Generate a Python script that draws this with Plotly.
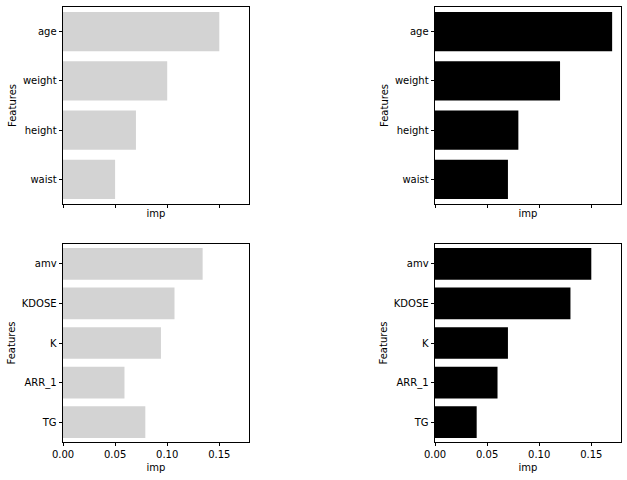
import plotly.graph_objects as go

# Werte
body_features = ['age', 'weight', 'height', 'waist']
body_imp_a = [0.150, 0.100, 0.070, 0.050]
body_imp_b = [0.170, 0.120, 0.080, 0.070]

lab_features = ['amv', 'KDOSE', 'K', 'ARR_1', 'TG']
lab_imp_a = [0.134, 0.107, 0.094, 0.059, 0.079]
lab_imp_b = [0.150, 0.130, 0.070, 0.060, 0.040]

x_ticks = [0.0, 0.05, 0.10, 0.15]

W, H = 627, 480
FONT = 'DejaVu Sans'


def px_x(a, b):
    return [a / W, b / W]


def px_y(top, bottom):
    return [(H - bottom) / H, (H - top) / H]


panels = [
    # (features, values, colour, x-domain, y-domain, show tick labels)
    (body_features, body_imp_a, '#d3d3d3', px_x(63, 249), px_y(7, 204), False),
    (body_features, body_imp_b, '#000000', px_x(435, 621), px_y(7, 204), False),
    (lab_features, lab_imp_a, '#d3d3d3', px_x(63, 249), px_y(244, 442), True),
    (lab_features, lab_imp_b, '#000000', px_x(435, 621), px_y(244, 442), True),
]

x_max = max(max(body_imp_a), max(body_imp_b), max(lab_imp_a), max(lab_imp_b)) * 1.05

fig = go.Figure()
layout = {}
title_font = dict(family=FONT, size=10, color='black')

for i, (feats, vals, colour, xdom, ydom, show_lbl) in enumerate(panels, start=1):
    sfx = '' if i == 1 else str(i)
    fig.add_trace(go.Bar(
        x=vals,
        y=feats,
        orientation='h',
        marker=dict(color=colour, line=dict(width=0)),
        width=0.8,
        xaxis='x' + sfx,
        yaxis='y' + sfx,
        showlegend=False,
    ))
    layout['xaxis' + sfx] = dict(
        domain=xdom,
        anchor='y' + sfx,
        range=[0, x_max],
        tickmode='array',
        tickvals=x_ticks,
        ticktext=[f'{v:.2f}' for v in x_ticks],
        showticklabels=show_lbl,
        ticks='outside',
        ticklen=3.5,
        tickwidth=0.8,
        tickcolor='black',
        showline=True,
        linecolor='black',
        linewidth=0.8,
        mirror=True,
        showgrid=False,
        zeroline=False,
        title=dict(text='imp', font=title_font, standoff=2 if not show_lbl else 4),
        automargin=False,
    )
    layout['yaxis' + sfx] = dict(
        domain=ydom,
        anchor='x' + sfx,
        categoryorder='array',
        categoryarray=feats,
        autorange='reversed',
        ticks='outside',
        ticklen=3.5,
        tickwidth=0.8,
        tickcolor='black',
        showline=True,
        linecolor='black',
        linewidth=0.8,
        mirror=True,
        showgrid=False,
        zeroline=False,
        title=dict(text='Features', font=title_font, standoff=4),
        automargin=False,
    )

fig.update_layout(
    **layout,
    width=W,
    height=H,
    margin=dict(l=0, r=0, t=0, b=0),
    paper_bgcolor='white',
    plot_bgcolor='white',
    font=dict(family=FONT, size=10, color='black'),
    bargap=0.2,
)

# Body-Rand der Seite entfernen, damit die Figur bei (0, 0) beginnt
fig.write_html('out.html', config={'displayModeBar': False},
               post_script="document.body.style.margin='0';")
